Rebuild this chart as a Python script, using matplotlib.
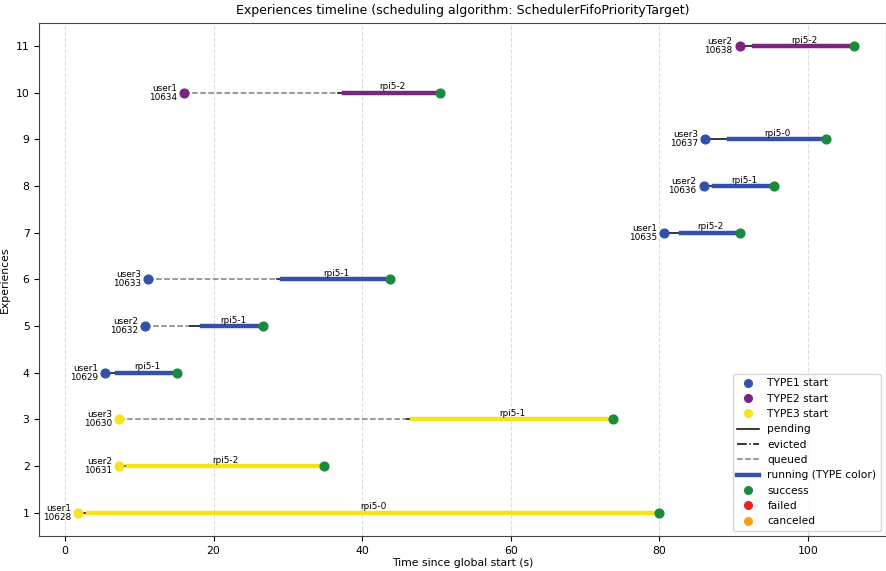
import matplotlib
matplotlib.use("Agg")
import matplotlib.pyplot as plt
from matplotlib.lines import Line2D

# ---- data ----
job_ids   = ["10628", "10631", "10630", "10629", "10632", "10633", "10635", "10636", "10637", "10634", "10638"]
users     = ["user1", "user2", "user3", "user1", "user2", "user3", "user1", "user2", "user3", "user1", "user2"]
types     = ["TYPE3", "TYPE3", "TYPE3", "TYPE1", "TYPE1", "TYPE1", "TYPE1", "TYPE1", "TYPE1", "TYPE2", "TYPE2"]
rows      = [1, 2, 3, 4, 5, 6, 7, 8, 9, 10, 11]
starts    = [1.75, 7.3, 7.3, 5.4, 10.8, 11.2, 80.6, 85.95, 86.2, 16.0, 90.8]
queue_end = [None, None, 46.0, None, 16.8, 28.5, None, None, None, 36.7, None]
run_start = [3.1, 8.5, 46.7, 7.0, 18.5, 29.2, 82.9, 87.3, 89.4, 37.5, 92.8]
ends      = [80.0, 34.8, 73.7, 15.1, 26.7, 43.8, 90.8, 95.5, 102.4, 50.5, 106.2]
hosts     = ["rpi5-0", "rpi5-2", "rpi5-1", "rpi5-1", "rpi5-1", "rpi5-1", "rpi5-2", "rpi5-1", "rpi5-0", "rpi5-2", "rpi5-2"]
statuses  = ["success"] * 11

type_colors = {"TYPE1": "#3350ac", "TYPE2": "#7b2482", "TYPE3": "#f3e41c"}
status_colors = {"success": "#1a8a3c", "failed": "#e8221c", "canceled": "#f7a11a"}

fig = plt.figure(figsize=(8.87, 5.71), dpi=100)
ax = fig.add_axes([0.0443, 0.0613, 0.9545, 0.8989])

for i in range(len(job_ids)):
    y = rows[i]
    c = type_colors[types[i]]
    pend_from = starts[i]
    if queue_end[i] is not None:
        ax.plot([starts[i], queue_end[i]], [y, y], color="gray", ls="--", lw=1.1, zorder=2)
        pend_from = queue_end[i]
    ax.plot([pend_from, run_start[i]], [y, y], color="black", ls="-", lw=1.1, zorder=2)
    ax.plot([run_start[i], ends[i]], [y, y], color=c, ls="-", lw=3.2, zorder=3)
    ax.plot([starts[i]], [y], marker="o", ms=6.3, color=c, ls="none", zorder=4)
    ax.plot([ends[i]], [y], marker="o", ms=6.3, color=status_colors[statuses[i]], ls="none", zorder=4)
    ax.annotate(f"{users[i]}\n{job_ids[i]}", (starts[i], y), xytext=(-5, 0),
                textcoords="offset points", ha="right", va="center", fontsize=6.4, linespacing=1.0)
    ax.text((run_start[i] + ends[i]) / 2, y + 0.03, hosts[i], ha="center", va="bottom", fontsize=6.4)

ax.set_xlim(-3.46, 110.5)
ax.set_ylim(0.5, 11.5)
ax.set_yticks(rows)
ax.tick_params(labelsize=7.8)
for s in ax.spines.values():
    s.set_color("#444444")
ax.grid(axis="x", ls="--", color="#dddddd", lw=0.8)
ax.set_axisbelow(True)
ax.set_xlabel("Time since global start (s)", fontsize=7.8, labelpad=2)
ax.set_ylabel("Experiences", fontsize=7.8, labelpad=4)
ax.set_title("Experiences timeline (scheduling algorithm: SchedulerFifoPriorityTarget)", fontsize=9, pad=6)

handles = [
    Line2D([], [], marker="o", ls="none", color=type_colors["TYPE1"], ms=5.5, label="TYPE1 start"),
    Line2D([], [], marker="o", ls="none", color=type_colors["TYPE2"], ms=5.5, label="TYPE2 start"),
    Line2D([], [], marker="o", ls="none", color=type_colors["TYPE3"], ms=5.5, label="TYPE3 start"),
    Line2D([], [], color="black", ls="-", lw=1.1, label="pending"),
    Line2D([], [], color="black", ls="-.", lw=1.1, label="evicted"),
    Line2D([], [], color="gray", ls="--", lw=1.1, label="queued"),
    Line2D([], [], color=type_colors["TYPE1"], ls="-", lw=3.2, label="running (TYPE color)"),
    Line2D([], [], marker="o", ls="none", color=status_colors["success"], ms=5.5, label="success"),
    Line2D([], [], marker="o", ls="none", color=status_colors["failed"], ms=5.5, label="failed"),
    Line2D([], [], marker="o", ls="none", color=status_colors["canceled"], ms=5.5, label="canceled"),
]
ax.legend(handles=handles, loc="lower right", fontsize=7.7, handlelength=2.0)

fig.savefig("out.png", dpi=100)
